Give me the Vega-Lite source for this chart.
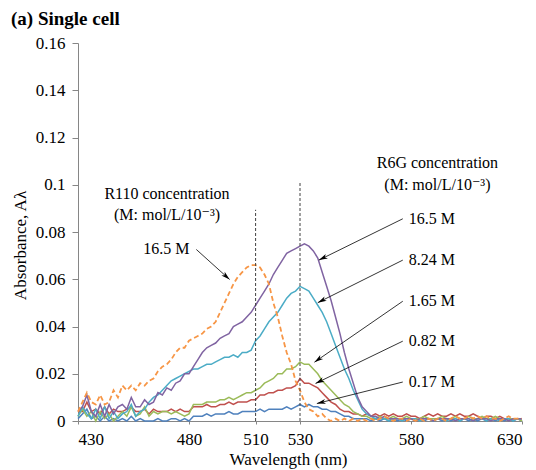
{
  "$schema": "https://vega.github.io/schema/vega-lite/v6.json",
  "width": 444,
  "height": 378,
  "autosize": {"type": "none"},
  "padding": {"left": 78, "top": 43, "right": 14, "bottom": 49},
  "background": "white",
  "config": {
    "view": {"stroke": null},
    "font": "Times New Roman, Liberation Serif, Tinos, DejaVu Serif, serif",
    "axis": {"grid": false, "domainColor": "#868686", "tickColor": "#868686", "labelColor": "black", "titleColor": "black", "labelFont": "Times New Roman, Liberation Serif, Tinos, DejaVu Serif, serif", "titleFont": "Times New Roman, Liberation Serif, Tinos, DejaVu Serif, serif", "labelFontSize": 17, "titleFontSize": 17, "titleFontWeight": "normal"}
  },
  "title": {"text": "(a) Single cell", "anchor": "start", "frame": "group", "font": "Times New Roman, Liberation Serif, Tinos, DejaVu Serif, serif", "fontSize": 19, "fontWeight": "bold", "color": "black", "dx": -67, "dy": 10, "offset": 0, "baseline": "alphabetic"},
  "datasets": {
    "s": [
      {"w":430,"P":0.004,"C":0.002,"G":0.002,"R":0.004,"B":0.001,"O":0.004},
      {"w":432,"P":0.006,"C":0.006,"G":0.005,"R":0.004,"B":0.003,"O":0.008},
      {"w":434,"P":0.011,"C":0.003,"G":0.002,"R":0.008,"B":0.005,"O":0.012},
      {"w":436,"P":0.004,"C":0.001,"G":0.004,"R":0.004,"B":0.001,"O":0.008},
      {"w":438,"P":0.002,"C":0.005,"G":0.000,"R":0.005,"B":0.002,"O":0.007},
      {"w":440,"P":0.007,"C":0.001,"G":0.004,"R":0.003,"B":0.000,"O":0.011},
      {"w":442,"P":0.002,"C":0.006,"G":0.001,"R":0.006,"B":0.002,"O":0.007},
      {"w":444,"P":0.007,"C":0.001,"G":0.003,"R":0.003,"B":0.000,"O":0.008},
      {"w":446,"P":0.003,"C":0.004,"G":0.000,"R":0.005,"B":0.001,"O":0.013},
      {"w":448,"P":0.006,"C":0.001,"G":0.002,"R":0.004,"B":0.000,"O":0.010},
      {"w":450,"P":0.007,"C":0.003,"G":0.004,"R":0.004,"B":0.001,"O":0.015},
      {"w":452,"P":0.005,"C":0.004,"G":0.002,"R":0.005,"B":0.000,"O":0.013},
      {"w":454,"P":0.010,"C":0.007,"G":0.006,"R":0.006,"B":0.002,"O":0.015},
      {"w":456,"P":0.006,"C":0.002,"G":0.002,"R":0.004,"B":0.000,"O":0.013},
      {"w":458,"P":0.006,"C":0.004,"G":0.003,"R":0.004,"B":0.001,"O":0.016},
      {"w":460,"P":0.009,"C":0.005,"G":0.006,"R":0.005,"B":0.000,"O":0.015},
      {"w":462,"P":0.007,"C":0.008,"G":0.002,"R":0.003,"B":0.000,"O":0.017},
      {"w":464,"P":0.008,"C":0.010,"G":0.004,"R":0.005,"B":0.000,"O":0.018},
      {"w":466,"P":0.012,"C":0.011,"G":0.003,"R":0.004,"B":0.001,"O":0.021},
      {"w":468,"P":0.011,"C":0.013,"G":0.004,"R":0.004,"B":0.000,"O":0.023},
      {"w":470,"P":0.014,"C":0.015,"G":0.004,"R":0.004,"B":0.000,"O":0.024},
      {"w":472,"P":0.013,"C":0.017,"G":0.003,"R":0.005,"B":0.001,"O":0.026},
      {"w":474,"P":0.016,"C":0.018,"G":0.004,"R":0.004,"B":0.001,"O":0.029},
      {"w":476,"P":0.017,"C":0.019,"G":0.003,"R":0.005,"B":0.000,"O":0.031},
      {"w":478,"P":0.020,"C":0.020,"G":0.002,"R":0.004,"B":0.001,"O":0.031},
      {"w":480,"P":0.020,"C":0.021,"G":0.003,"R":0.004,"B":0.000,"O":0.034},
      {"w":482,"P":0.023,"C":0.022,"G":0.007,"R":0.006,"B":0.002,"O":0.035},
      {"w":484,"P":0.026,"C":0.022,"G":0.007,"R":0.006,"B":0.002,"O":0.036},
      {"w":486,"P":0.029,"C":0.023,"G":0.007,"R":0.006,"B":0.002,"O":0.037},
      {"w":488,"P":0.031,"C":0.024,"G":0.008,"R":0.007,"B":0.003,"O":0.039},
      {"w":490,"P":0.032,"C":0.024,"G":0.008,"R":0.006,"B":0.002,"O":0.040},
      {"w":492,"P":0.033,"C":0.025,"G":0.008,"R":0.006,"B":0.003,"O":0.042},
      {"w":494,"P":0.035,"C":0.026,"G":0.009,"R":0.007,"B":0.003,"O":0.046},
      {"w":496,"P":0.036,"C":0.027,"G":0.009,"R":0.007,"B":0.003,"O":0.050},
      {"w":498,"P":0.037,"C":0.027,"G":0.010,"R":0.008,"B":0.004,"O":0.054},
      {"w":500,"P":0.040,"C":0.028,"G":0.009,"R":0.007,"B":0.003,"O":0.058},
      {"w":502,"P":0.041,"C":0.027,"G":0.010,"R":0.008,"B":0.003,"O":0.061},
      {"w":504,"P":0.042,"C":0.029,"G":0.011,"R":0.008,"B":0.004,"O":0.063},
      {"w":506,"P":0.044,"C":0.029,"G":0.012,"R":0.008,"B":0.004,"O":0.065},
      {"w":508,"P":0.046,"C":0.030,"G":0.012,"R":0.009,"B":0.004,"O":0.066},
      {"w":510,"P":0.049,"C":0.034,"G":0.013,"R":0.009,"B":0.004,"O":0.066},
      {"w":512,"P":0.052,"C":0.036,"G":0.014,"R":0.011,"B":0.005,"O":0.065},
      {"w":514,"P":0.055,"C":0.039,"G":0.016,"R":0.011,"B":0.004,"O":0.062},
      {"w":516,"P":0.058,"C":0.042,"G":0.017,"R":0.012,"B":0.005,"O":0.058},
      {"w":518,"P":0.062,"C":0.044,"G":0.018,"R":0.012,"B":0.005,"O":0.050},
      {"w":520,"P":0.065,"C":0.046,"G":0.020,"R":0.013,"B":0.005,"O":0.044},
      {"w":522,"P":0.068,"C":0.049,"G":0.020,"R":0.013,"B":0.005,"O":0.036},
      {"w":524,"P":0.071,"C":0.052,"G":0.022,"R":0.014,"B":0.006,"O":0.029},
      {"w":526,"P":0.072,"C":0.054,"G":0.022,"R":0.014,"B":0.005,"O":0.024},
      {"w":528,"P":0.073,"C":0.055,"G":0.023,"R":0.015,"B":0.006,"O":0.017},
      {"w":530,"P":0.074,"C":0.057,"G":0.025,"R":0.018,"B":0.007,"O":0.013},
      {"w":532,"P":0.075,"C":0.056,"G":0.024,"R":0.016,"B":0.006,"O":0.008},
      {"w":534,"P":0.074,"C":0.055,"G":0.024,"R":0.016,"B":0.007,"O":0.005},
      {"w":536,"P":0.072,"C":0.052,"G":0.022,"R":0.015,"B":0.006,"O":0.004},
      {"w":538,"P":0.069,"C":0.049,"G":0.020,"R":0.014,"B":0.006,"O":0.002},
      {"w":540,"P":0.063,"C":0.046,"G":0.017,"R":0.012,"B":0.005,"O":0.003},
      {"w":542,"P":0.057,"C":0.042,"G":0.015,"R":0.010,"B":0.005,"O":0.001},
      {"w":544,"P":0.051,"C":0.037,"G":0.013,"R":0.008,"B":0.004,"O":0.000},
      {"w":546,"P":0.044,"C":0.032,"G":0.011,"R":0.007,"B":0.004,"O":0.001},
      {"w":548,"P":0.037,"C":0.027,"G":0.009,"R":0.005,"B":0.003,"O":0.000},
      {"w":550,"P":0.029,"C":0.022,"G":0.007,"R":0.004,"B":0.002,"O":0.001},
      {"w":552,"P":0.022,"C":0.018,"G":0.006,"R":0.004,"B":0.002,"O":0.000},
      {"w":554,"P":0.016,"C":0.013,"G":0.004,"R":0.003,"B":0.001,"O":0.001},
      {"w":556,"P":0.010,"C":0.009,"G":0.003,"R":0.003,"B":0.001,"O":0.000},
      {"w":558,"P":0.006,"C":0.005,"G":0.002,"R":0.002,"B":0.001,"O":0.001},
      {"w":560,"P":0.004,"C":0.003,"G":0.002,"R":0.003,"B":0.001,"O":0.000},
      {"w":562,"P":0.002,"C":0.002,"G":0.001,"R":0.002,"B":0.000,"O":0.001},
      {"w":564,"P":0.002,"C":0.001,"G":0.001,"R":0.003,"B":0.001,"O":0.000},
      {"w":566,"P":0.001,"C":0.001,"G":0.002,"R":0.002,"B":0.000,"O":0.001},
      {"w":568,"P":0.002,"C":0.001,"G":0.001,"R":0.003,"B":0.001,"O":0.002},
      {"w":570,"P":0.001,"C":0.000,"G":0.001,"R":0.002,"B":0.000,"O":0.001},
      {"w":572,"P":0.001,"C":0.001,"G":0.002,"R":0.003,"B":0.001,"O":0.000},
      {"w":574,"P":0.001,"C":0.001,"G":0.001,"R":0.002,"B":0.000,"O":0.001},
      {"w":576,"P":0.001,"C":0.000,"G":0.001,"R":0.002,"B":0.001,"O":0.001},
      {"w":578,"P":0.001,"C":0.001,"G":0.002,"R":0.003,"B":0.000,"O":0.000},
      {"w":580,"P":0.001,"C":0.001,"G":0.001,"R":0.002,"B":0.001,"O":0.001},
      {"w":582,"P":0.000,"C":0.001,"G":0.001,"R":0.002,"B":0.000,"O":0.000},
      {"w":584,"P":0.001,"C":0.000,"G":0.001,"R":0.001,"B":0.001,"O":0.001},
      {"w":586,"P":0.001,"C":0.001,"G":0.002,"R":0.002,"B":0.000,"O":0.000},
      {"w":588,"P":0.001,"C":0.001,"G":0.001,"R":0.003,"B":0.001,"O":0.001},
      {"w":590,"P":0.000,"C":0.000,"G":0.001,"R":0.002,"B":0.000,"O":0.000},
      {"w":592,"P":0.001,"C":0.001,"G":0.001,"R":0.003,"B":0.001,"O":0.001},
      {"w":594,"P":0.001,"C":0.001,"G":0.002,"R":0.002,"B":0.000,"O":0.001},
      {"w":596,"P":0.001,"C":0.000,"G":0.001,"R":0.002,"B":0.001,"O":0.000},
      {"w":598,"P":0.001,"C":0.001,"G":0.001,"R":0.003,"B":0.000,"O":0.001},
      {"w":600,"P":0.000,"C":0.001,"G":0.002,"R":0.002,"B":0.001,"O":0.002},
      {"w":602,"P":0.001,"C":0.000,"G":0.001,"R":0.003,"B":0.000,"O":0.001},
      {"w":604,"P":0.001,"C":0.001,"G":0.001,"R":0.002,"B":0.001,"O":0.001},
      {"w":606,"P":0.001,"C":0.001,"G":0.002,"R":0.002,"B":0.000,"O":0.002},
      {"w":608,"P":0.000,"C":0.000,"G":0.001,"R":0.003,"B":0.001,"O":0.001},
      {"w":610,"P":0.001,"C":0.001,"G":0.001,"R":0.002,"B":0.000,"O":0.002},
      {"w":612,"P":0.001,"C":0.001,"G":0.002,"R":0.001,"B":0.001,"O":0.001},
      {"w":614,"P":0.001,"C":0.000,"G":0.001,"R":0.002,"B":0.000,"O":0.002},
      {"w":616,"P":0.000,"C":0.001,"G":0.001,"R":0.002,"B":0.001,"O":0.001},
      {"w":618,"P":0.001,"C":0.001,"G":0.002,"R":0.001,"B":0.000,"O":0.001},
      {"w":620,"P":0.001,"C":0.000,"G":0.001,"R":0.002,"B":0.001,"O":0.000},
      {"w":622,"P":0.001,"C":0.001,"G":0.001,"R":0.001,"B":0.000,"O":0.001},
      {"w":624,"P":0.000,"C":0.001,"G":0.001,"R":0.001,"B":0.001,"O":0.002},
      {"w":626,"P":0.001,"C":0.000,"G":0.001,"R":0.001,"B":0.000,"O":0.001},
      {"w":628,"P":0.001,"C":0.001,"G":0.001,"R":0.001,"B":0.001,"O":0.001},
      {"w":630,"P":0.001,"C":0.001,"G":0.000,"R":0.001,"B":0.000,"O":0.001}
    ],
    "arr": [
      {"w":576.3,"a":0.0856,"w2":538.5,"a2":0.0681,"ang":244},
      {"w":576.3,"a":0.0681,"w2":538.0,"a2":0.0501,"ang":243},
      {"w":576.3,"a":0.0507,"w2":536.5,"a2":0.0249,"ang":235},
      {"w":576.3,"a":0.0338,"w2":537.0,"a2":0.0159,"ang":244},
      {"w":576.3,"a":0.0165,"w2":537.6,"a2":0.0074,"ang":256},
      {"w":483.3,"a":0.0726,"w2":498.3,"a2":0.0599,"ang":132}
    ],
    "lab": [
      {"w":579,"a":0.0853,"t":"16.5 M"},
      {"w":579,"a":0.0681,"t":"8.24 M"},
      {"w":579,"a":0.0507,"t":"1.65 M"},
      {"w":579,"a":0.0338,"t":"0.82 M"},
      {"w":579,"a":0.0165,"t":"0.17 M"}
    ],
    "hdr": [
      {"w":591.9,"a":0.109,"t":"R6G concentration"},
      {"w":591.9,"a":0.1001,"t":"(M: mol/L/10⁻³)"},
      {"w":470.1,"a":0.0959,"t":"R110 concentration"},
      {"w":470.1,"a":0.0874,"t":"(M: mol/L/10⁻³)"},
      {"w":469.8,"a":0.0726,"t":"16.5 M"}
    ],
    "vl": [
      {"w":510,"a":0,"a2":0.0894},
      {"w":530,"a":0,"a2":0.1008}
    ]
  },
  "layer": [
    {
      "data": {"name": "s"},
      "transform": [{"fold": ["B", "R", "G", "C", "P"], "as": ["s", "a"]}],
      "mark": {"type": "line", "strokeWidth": 1.5},
      "encoding": {
        "x": {"field": "w", "type": "quantitative", "title": "Wavelength (nm)", "scale": {"domain": [430, 630], "nice": false},
          "axis": {"values": [430, 480, 510, 530, 580, 630], "tickSize": 3, "labelPadding": 7, "titleX": 210, "titleY": 43, "titleAlign": "center", "titleBaseline": "alphabetic"}},
        "y": {"field": "a", "type": "quantitative", "title": "Absorbance, Aλ", "scale": {"domain": [0, 0.16], "nice": false},
          "axis": {"values": [0, 0.02, 0.04, 0.06, 0.08, 0.1, 0.12, 0.14, 0.16], "format": "~g", "tickSize": 6, "labelPadding": 7, "titleX": -58, "titleY": 202, "titleAngle": -90, "titleAlign": "center", "titleBaseline": "middle"}},
        "color": {"field": "s", "type": "nominal", "legend": null,
          "scale": {"domain": ["B", "R", "G", "C", "P"], "range": ["#4F81BD", "#C0504D", "#9BBB59", "#4BACC6", "#8064A2"]}}
      }
    },
    {
      "data": {"name": "s"},
      "mark": {"type": "line", "strokeWidth": 1.8, "strokeDash": [5, 3], "color": "#F79646"},
      "encoding": {
        "x": {"field": "w", "type": "quantitative", "title": "Wavelength (nm)"},
        "y": {"field": "O", "type": "quantitative", "title": "Absorbance, Aλ"}
      }
    },
    {
      "data": {"name": "vl"},
      "mark": {"type": "rule", "color": "#404040", "strokeWidth": 1, "strokeDash": [3, 2]},
      "encoding": {
        "x": {"field": "w", "type": "quantitative", "title": "Wavelength (nm)"},
        "y": {"field": "a", "type": "quantitative", "title": "Absorbance, Aλ"},
        "y2": {"field": "a2"}
      }
    },
    {
      "data": {"name": "arr"},
      "mark": {"type": "rule", "color": "black", "strokeWidth": 0.8},
      "encoding": {
        "x": {"field": "w", "type": "quantitative", "title": "Wavelength (nm)"},
        "y": {"field": "a", "type": "quantitative", "title": "Absorbance, Aλ"},
        "x2": {"field": "w2"},
        "y2": {"field": "a2"}
      }
    },
    {
      "data": {"name": "arr"},
      "mark": {"type": "point", "shape": "M0,0L0.42,1.5L0,1.1L-0.42,1.5Z", "filled": true, "color": "black", "opacity": 1, "size": 140},
      "encoding": {
        "x": {"field": "w2", "type": "quantitative", "title": "Wavelength (nm)"},
        "y": {"field": "a2", "type": "quantitative", "title": "Absorbance, Aλ"},
        "angle": {"field": "ang", "type": "quantitative", "scale": null}
      }
    },
    {
      "data": {"name": "lab"},
      "mark": {"type": "text", "font": "Times New Roman, Liberation Serif, Tinos, DejaVu Serif, serif", "fontSize": 16, "align": "left", "baseline": "middle", "color": "black"},
      "encoding": {
        "x": {"field": "w", "type": "quantitative", "title": "Wavelength (nm)"},
        "y": {"field": "a", "type": "quantitative", "title": "Absorbance, Aλ"},
        "text": {"field": "t"}
      }
    },
    {
      "data": {"name": "hdr"},
      "mark": {"type": "text", "font": "Times New Roman, Liberation Serif, Tinos, DejaVu Serif, serif", "fontSize": 16, "align": "center", "baseline": "middle", "color": "black"},
      "encoding": {
        "x": {"field": "w", "type": "quantitative", "title": "Wavelength (nm)"},
        "y": {"field": "a", "type": "quantitative", "title": "Absorbance, Aλ"},
        "text": {"field": "t"}
      }
    }
  ]
}
